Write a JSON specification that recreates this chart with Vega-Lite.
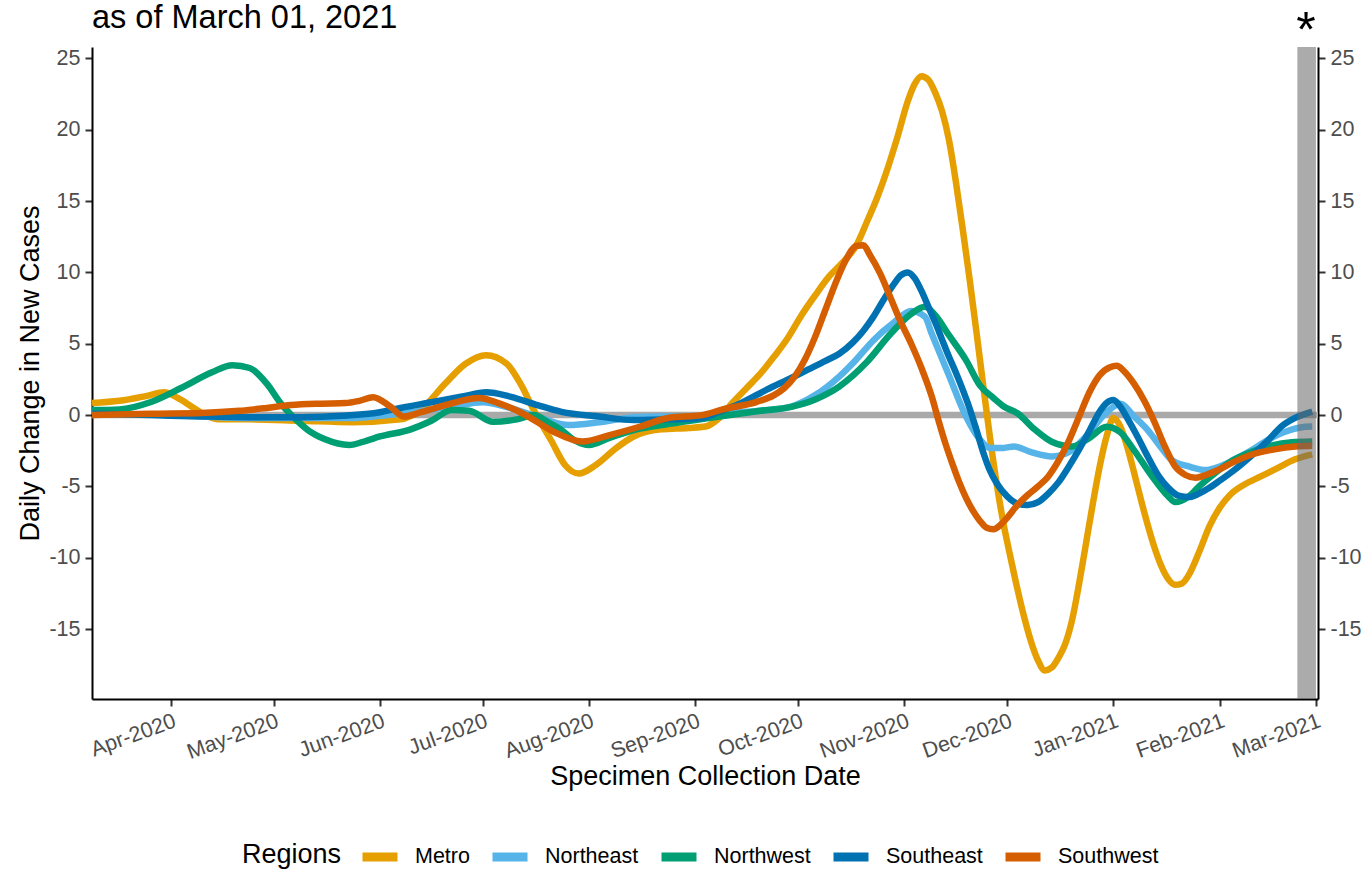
{
  "$schema": "https://vega.github.io/schema/vega-lite/v6.json",
  "width": 1226,
  "height": 652,
  "autosize": {"type": "none"},
  "padding": {"left": 92, "top": 47, "right": 49, "bottom": 170},
  "background": "white",
  "title": {"text": "as of March 01, 2021", "anchor": "start", "frame": "group", "fontSize": 32.5, "fontWeight": "normal", "color": "#000000", "baseline": "alphabetic", "offset": -53},
  "config": {
    "font": "Liberation Sans",
    "view": {"stroke": null},
    "axis": {"domainColor": "#000000", "domainWidth": 2, "tickColor": "#333333", "tickWidth": 2, "tickSize": 7, "labelColor": "#4d4d4d", "labelFontSize": 21.5, "titleFontSize": 27, "titleFontWeight": "normal", "titleColor": "#000000", "grid": false, "labelPadding": 5}
  },
  "datasets": {
    "series": [
      {"region": "Metro", "date": "2020-03-09", "value": 0.85},
      {"region": "Metro", "date": "2020-03-17", "value": 1.0},
      {"region": "Metro", "date": "2020-03-25", "value": 1.35},
      {"region": "Metro", "date": "2020-03-30", "value": 1.6},
      {"region": "Metro", "date": "2020-04-03", "value": 1.2},
      {"region": "Metro", "date": "2020-04-07", "value": 0.6},
      {"region": "Metro", "date": "2020-04-11", "value": 0.0},
      {"region": "Metro", "date": "2020-04-15", "value": -0.3},
      {"region": "Metro", "date": "2020-04-24", "value": -0.3},
      {"region": "Metro", "date": "2020-05-09", "value": -0.4},
      {"region": "Metro", "date": "2020-05-24", "value": -0.5},
      {"region": "Metro", "date": "2020-06-07", "value": -0.3},
      {"region": "Metro", "date": "2020-06-13", "value": 0.4},
      {"region": "Metro", "date": "2020-06-20", "value": 2.2},
      {"region": "Metro", "date": "2020-06-26", "value": 3.6},
      {"region": "Metro", "date": "2020-07-02", "value": 4.2},
      {"region": "Metro", "date": "2020-07-08", "value": 3.6},
      {"region": "Metro", "date": "2020-07-12", "value": 2.2},
      {"region": "Metro", "date": "2020-07-16", "value": 0.3},
      {"region": "Metro", "date": "2020-07-21", "value": -1.8},
      {"region": "Metro", "date": "2020-07-25", "value": -3.5},
      {"region": "Metro", "date": "2020-07-29", "value": -4.1},
      {"region": "Metro", "date": "2020-08-03", "value": -3.5},
      {"region": "Metro", "date": "2020-08-09", "value": -2.3},
      {"region": "Metro", "date": "2020-08-14", "value": -1.5},
      {"region": "Metro", "date": "2020-08-22", "value": -1.0},
      {"region": "Metro", "date": "2020-08-30", "value": -0.9},
      {"region": "Metro", "date": "2020-09-04", "value": -0.8},
      {"region": "Metro", "date": "2020-09-08", "value": -0.2},
      {"region": "Metro", "date": "2020-09-12", "value": 0.9},
      {"region": "Metro", "date": "2020-09-16", "value": 1.9},
      {"region": "Metro", "date": "2020-09-20", "value": 2.9},
      {"region": "Metro", "date": "2020-09-24", "value": 4.1},
      {"region": "Metro", "date": "2020-09-28", "value": 5.4},
      {"region": "Metro", "date": "2020-10-02", "value": 7.0},
      {"region": "Metro", "date": "2020-10-06", "value": 8.4},
      {"region": "Metro", "date": "2020-10-10", "value": 9.7},
      {"region": "Metro", "date": "2020-10-14", "value": 10.7},
      {"region": "Metro", "date": "2020-10-18", "value": 11.9},
      {"region": "Metro", "date": "2020-10-21", "value": 13.5},
      {"region": "Metro", "date": "2020-10-24", "value": 15.2},
      {"region": "Metro", "date": "2020-10-27", "value": 17.2},
      {"region": "Metro", "date": "2020-10-30", "value": 19.5},
      {"region": "Metro", "date": "2020-11-02", "value": 22.0},
      {"region": "Metro", "date": "2020-11-04", "value": 23.2},
      {"region": "Metro", "date": "2020-11-06", "value": 23.75},
      {"region": "Metro", "date": "2020-11-08", "value": 23.5},
      {"region": "Metro", "date": "2020-11-10", "value": 22.6},
      {"region": "Metro", "date": "2020-11-12", "value": 21.3},
      {"region": "Metro", "date": "2020-11-14", "value": 19.3},
      {"region": "Metro", "date": "2020-11-16", "value": 16.4},
      {"region": "Metro", "date": "2020-11-18", "value": 13.1},
      {"region": "Metro", "date": "2020-11-20", "value": 9.6},
      {"region": "Metro", "date": "2020-11-22", "value": 5.9},
      {"region": "Metro", "date": "2020-11-24", "value": 2.1},
      {"region": "Metro", "date": "2020-11-26", "value": -1.6},
      {"region": "Metro", "date": "2020-11-28", "value": -4.9},
      {"region": "Metro", "date": "2020-11-30", "value": -7.7},
      {"region": "Metro", "date": "2020-12-02", "value": -10.0},
      {"region": "Metro", "date": "2020-12-04", "value": -12.2},
      {"region": "Metro", "date": "2020-12-06", "value": -14.2},
      {"region": "Metro", "date": "2020-12-08", "value": -15.9},
      {"region": "Metro", "date": "2020-12-10", "value": -17.2},
      {"region": "Metro", "date": "2020-12-12", "value": -17.9},
      {"region": "Metro", "date": "2020-12-14", "value": -17.7},
      {"region": "Metro", "date": "2020-12-16", "value": -17.0},
      {"region": "Metro", "date": "2020-12-18", "value": -16.0},
      {"region": "Metro", "date": "2020-12-20", "value": -14.3},
      {"region": "Metro", "date": "2020-12-22", "value": -11.8},
      {"region": "Metro", "date": "2020-12-24", "value": -9.0},
      {"region": "Metro", "date": "2020-12-26", "value": -6.2},
      {"region": "Metro", "date": "2020-12-28", "value": -3.6},
      {"region": "Metro", "date": "2020-12-30", "value": -1.5},
      {"region": "Metro", "date": "2021-01-01", "value": -0.2},
      {"region": "Metro", "date": "2021-01-03", "value": -0.8},
      {"region": "Metro", "date": "2021-01-05", "value": -2.2},
      {"region": "Metro", "date": "2021-01-07", "value": -4.0},
      {"region": "Metro", "date": "2021-01-09", "value": -5.9},
      {"region": "Metro", "date": "2021-01-11", "value": -7.7},
      {"region": "Metro", "date": "2021-01-13", "value": -9.3},
      {"region": "Metro", "date": "2021-01-15", "value": -10.6},
      {"region": "Metro", "date": "2021-01-17", "value": -11.5},
      {"region": "Metro", "date": "2021-01-19", "value": -11.9},
      {"region": "Metro", "date": "2021-01-21", "value": -11.8},
      {"region": "Metro", "date": "2021-01-23", "value": -11.2},
      {"region": "Metro", "date": "2021-01-26", "value": -9.6},
      {"region": "Metro", "date": "2021-01-29", "value": -7.8},
      {"region": "Metro", "date": "2021-02-01", "value": -6.5},
      {"region": "Metro", "date": "2021-02-04", "value": -5.6},
      {"region": "Metro", "date": "2021-02-08", "value": -4.9},
      {"region": "Metro", "date": "2021-02-13", "value": -4.3},
      {"region": "Metro", "date": "2021-02-18", "value": -3.7},
      {"region": "Metro", "date": "2021-02-23", "value": -3.1},
      {"region": "Metro", "date": "2021-02-28", "value": -2.75},

      {"region": "Northeast", "date": "2020-03-09", "value": 0.1},
      {"region": "Northeast", "date": "2020-03-26", "value": 0.05},
      {"region": "Northeast", "date": "2020-04-10", "value": -0.1},
      {"region": "Northeast", "date": "2020-04-24", "value": -0.2},
      {"region": "Northeast", "date": "2020-05-09", "value": -0.2},
      {"region": "Northeast", "date": "2020-05-24", "value": -0.2},
      {"region": "Northeast", "date": "2020-06-01", "value": -0.05},
      {"region": "Northeast", "date": "2020-06-10", "value": 0.2},
      {"region": "Northeast", "date": "2020-06-22", "value": 0.6},
      {"region": "Northeast", "date": "2020-07-01", "value": 0.9},
      {"region": "Northeast", "date": "2020-07-09", "value": 0.5},
      {"region": "Northeast", "date": "2020-07-18", "value": -0.2},
      {"region": "Northeast", "date": "2020-07-26", "value": -0.7},
      {"region": "Northeast", "date": "2020-08-04", "value": -0.5},
      {"region": "Northeast", "date": "2020-08-14", "value": -0.15},
      {"region": "Northeast", "date": "2020-08-22", "value": -0.1},
      {"region": "Northeast", "date": "2020-09-03", "value": -0.1},
      {"region": "Northeast", "date": "2020-09-08", "value": 0.1},
      {"region": "Northeast", "date": "2020-09-20", "value": 0.3},
      {"region": "Northeast", "date": "2020-09-29", "value": 0.6},
      {"region": "Northeast", "date": "2020-10-06", "value": 1.4},
      {"region": "Northeast", "date": "2020-10-13", "value": 2.7},
      {"region": "Northeast", "date": "2020-10-18", "value": 3.9},
      {"region": "Northeast", "date": "2020-10-23", "value": 5.25},
      {"region": "Northeast", "date": "2020-10-29", "value": 6.5},
      {"region": "Northeast", "date": "2020-11-03", "value": 7.3},
      {"region": "Northeast", "date": "2020-11-07", "value": 6.9},
      {"region": "Northeast", "date": "2020-11-09", "value": 5.7},
      {"region": "Northeast", "date": "2020-11-14", "value": 2.8},
      {"region": "Northeast", "date": "2020-11-19", "value": -0.1},
      {"region": "Northeast", "date": "2020-11-23", "value": -1.7},
      {"region": "Northeast", "date": "2020-11-26", "value": -2.3},
      {"region": "Northeast", "date": "2020-11-30", "value": -2.3},
      {"region": "Northeast", "date": "2020-12-03", "value": -2.2},
      {"region": "Northeast", "date": "2020-12-08", "value": -2.6},
      {"region": "Northeast", "date": "2020-12-14", "value": -2.9},
      {"region": "Northeast", "date": "2020-12-19", "value": -2.6},
      {"region": "Northeast", "date": "2020-12-24", "value": -1.5},
      {"region": "Northeast", "date": "2020-12-30", "value": 0.2},
      {"region": "Northeast", "date": "2021-01-03", "value": 0.8},
      {"region": "Northeast", "date": "2021-01-07", "value": -0.1},
      {"region": "Northeast", "date": "2021-01-11", "value": -1.05},
      {"region": "Northeast", "date": "2021-01-15", "value": -2.3},
      {"region": "Northeast", "date": "2021-01-18", "value": -3.15},
      {"region": "Northeast", "date": "2021-01-23", "value": -3.6},
      {"region": "Northeast", "date": "2021-01-28", "value": -3.85},
      {"region": "Northeast", "date": "2021-02-01", "value": -3.6},
      {"region": "Northeast", "date": "2021-02-05", "value": -3.15},
      {"region": "Northeast", "date": "2021-02-10", "value": -2.5},
      {"region": "Northeast", "date": "2021-02-15", "value": -1.75},
      {"region": "Northeast", "date": "2021-02-21", "value": -1.1},
      {"region": "Northeast", "date": "2021-02-26", "value": -0.82},
      {"region": "Northeast", "date": "2021-02-28", "value": -0.8},

      {"region": "Northwest", "date": "2020-03-09", "value": 0.35},
      {"region": "Northwest", "date": "2020-03-17", "value": 0.4},
      {"region": "Northwest", "date": "2020-03-26", "value": 0.9},
      {"region": "Northwest", "date": "2020-04-04", "value": 1.9},
      {"region": "Northwest", "date": "2020-04-13", "value": 3.0},
      {"region": "Northwest", "date": "2020-04-19", "value": 3.5},
      {"region": "Northwest", "date": "2020-04-24", "value": 3.3},
      {"region": "Northwest", "date": "2020-04-29", "value": 2.2},
      {"region": "Northwest", "date": "2020-05-03", "value": 0.84},
      {"region": "Northwest", "date": "2020-05-07", "value": -0.2},
      {"region": "Northwest", "date": "2020-05-11", "value": -1.05},
      {"region": "Northwest", "date": "2020-05-16", "value": -1.7},
      {"region": "Northwest", "date": "2020-05-23", "value": -2.1},
      {"region": "Northwest", "date": "2020-05-28", "value": -1.8},
      {"region": "Northwest", "date": "2020-06-01", "value": -1.5},
      {"region": "Northwest", "date": "2020-06-10", "value": -1.0},
      {"region": "Northwest", "date": "2020-06-16", "value": -0.4},
      {"region": "Northwest", "date": "2020-06-22", "value": 0.35},
      {"region": "Northwest", "date": "2020-06-27", "value": 0.3},
      {"region": "Northwest", "date": "2020-07-04", "value": -0.47},
      {"region": "Northwest", "date": "2020-07-11", "value": -0.3},
      {"region": "Northwest", "date": "2020-07-16", "value": 0.0},
      {"region": "Northwest", "date": "2020-07-20", "value": -0.5},
      {"region": "Northwest", "date": "2020-07-24", "value": -1.05},
      {"region": "Northwest", "date": "2020-07-28", "value": -1.8},
      {"region": "Northwest", "date": "2020-08-01", "value": -2.1},
      {"region": "Northwest", "date": "2020-08-07", "value": -1.6},
      {"region": "Northwest", "date": "2020-08-14", "value": -1.05},
      {"region": "Northwest", "date": "2020-08-25", "value": -0.6},
      {"region": "Northwest", "date": "2020-09-08", "value": -0.1},
      {"region": "Northwest", "date": "2020-09-20", "value": 0.3},
      {"region": "Northwest", "date": "2020-09-29", "value": 0.58},
      {"region": "Northwest", "date": "2020-10-06", "value": 1.1},
      {"region": "Northwest", "date": "2020-10-13", "value": 2.0},
      {"region": "Northwest", "date": "2020-10-21", "value": 3.7},
      {"region": "Northwest", "date": "2020-10-28", "value": 5.7},
      {"region": "Northwest", "date": "2020-11-03", "value": 7.1},
      {"region": "Northwest", "date": "2020-11-07", "value": 7.6},
      {"region": "Northwest", "date": "2020-11-10", "value": 7.0},
      {"region": "Northwest", "date": "2020-11-14", "value": 5.6},
      {"region": "Northwest", "date": "2020-11-19", "value": 3.85},
      {"region": "Northwest", "date": "2020-11-23", "value": 2.1},
      {"region": "Northwest", "date": "2020-11-27", "value": 1.2},
      {"region": "Northwest", "date": "2020-11-30", "value": 0.6},
      {"region": "Northwest", "date": "2020-12-04", "value": 0.13},
      {"region": "Northwest", "date": "2020-12-09", "value": -1.0},
      {"region": "Northwest", "date": "2020-12-14", "value": -1.87},
      {"region": "Northwest", "date": "2020-12-20", "value": -2.2},
      {"region": "Northwest", "date": "2020-12-25", "value": -1.6},
      {"region": "Northwest", "date": "2020-12-30", "value": -0.82},
      {"region": "Northwest", "date": "2021-01-03", "value": -1.2},
      {"region": "Northwest", "date": "2021-01-07", "value": -2.45},
      {"region": "Northwest", "date": "2021-01-12", "value": -4.2},
      {"region": "Northwest", "date": "2021-01-17", "value": -5.7},
      {"region": "Northwest", "date": "2021-01-19", "value": -6.1},
      {"region": "Northwest", "date": "2021-01-23", "value": -5.7},
      {"region": "Northwest", "date": "2021-01-26", "value": -5.0},
      {"region": "Northwest", "date": "2021-01-31", "value": -4.0},
      {"region": "Northwest", "date": "2021-02-05", "value": -3.15},
      {"region": "Northwest", "date": "2021-02-10", "value": -2.6},
      {"region": "Northwest", "date": "2021-02-15", "value": -2.2},
      {"region": "Northwest", "date": "2021-02-22", "value": -1.9},
      {"region": "Northwest", "date": "2021-02-28", "value": -1.85},

      {"region": "Southeast", "date": "2020-03-09", "value": 0.1},
      {"region": "Southeast", "date": "2020-03-26", "value": 0.0},
      {"region": "Southeast", "date": "2020-04-10", "value": -0.1},
      {"region": "Southeast", "date": "2020-04-24", "value": -0.15},
      {"region": "Southeast", "date": "2020-05-09", "value": -0.15},
      {"region": "Southeast", "date": "2020-05-21", "value": -0.05},
      {"region": "Southeast", "date": "2020-06-01", "value": 0.2},
      {"region": "Southeast", "date": "2020-06-07", "value": 0.5},
      {"region": "Southeast", "date": "2020-06-16", "value": 0.9},
      {"region": "Southeast", "date": "2020-06-25", "value": 1.3},
      {"region": "Southeast", "date": "2020-07-02", "value": 1.6},
      {"region": "Southeast", "date": "2020-07-09", "value": 1.3},
      {"region": "Southeast", "date": "2020-07-17", "value": 0.7},
      {"region": "Southeast", "date": "2020-07-24", "value": 0.23},
      {"region": "Southeast", "date": "2020-08-04", "value": -0.1},
      {"region": "Southeast", "date": "2020-08-14", "value": -0.35},
      {"region": "Southeast", "date": "2020-08-25", "value": -0.3},
      {"region": "Southeast", "date": "2020-09-03", "value": -0.2},
      {"region": "Southeast", "date": "2020-09-08", "value": 0.23},
      {"region": "Southeast", "date": "2020-09-14", "value": 0.8},
      {"region": "Southeast", "date": "2020-09-22", "value": 1.8},
      {"region": "Southeast", "date": "2020-09-29", "value": 2.6},
      {"region": "Southeast", "date": "2020-10-04", "value": 3.2},
      {"region": "Southeast", "date": "2020-10-09", "value": 3.8},
      {"region": "Southeast", "date": "2020-10-13", "value": 4.3},
      {"region": "Southeast", "date": "2020-10-17", "value": 5.1},
      {"region": "Southeast", "date": "2020-10-20", "value": 5.9},
      {"region": "Southeast", "date": "2020-10-23", "value": 6.9},
      {"region": "Southeast", "date": "2020-10-26", "value": 8.1},
      {"region": "Southeast", "date": "2020-10-29", "value": 9.2},
      {"region": "Southeast", "date": "2020-10-31", "value": 9.8},
      {"region": "Southeast", "date": "2020-11-02", "value": 10.0},
      {"region": "Southeast", "date": "2020-11-04", "value": 9.6},
      {"region": "Southeast", "date": "2020-11-06", "value": 8.7},
      {"region": "Southeast", "date": "2020-11-08", "value": 7.6},
      {"region": "Southeast", "date": "2020-11-10", "value": 6.5},
      {"region": "Southeast", "date": "2020-11-12", "value": 5.3},
      {"region": "Southeast", "date": "2020-11-14", "value": 4.1},
      {"region": "Southeast", "date": "2020-11-16", "value": 3.0},
      {"region": "Southeast", "date": "2020-11-18", "value": 1.8},
      {"region": "Southeast", "date": "2020-11-20", "value": 0.5},
      {"region": "Southeast", "date": "2020-11-22", "value": -1.0},
      {"region": "Southeast", "date": "2020-11-24", "value": -2.6},
      {"region": "Southeast", "date": "2020-11-26", "value": -3.9},
      {"region": "Southeast", "date": "2020-11-28", "value": -4.8},
      {"region": "Southeast", "date": "2020-12-01", "value": -5.7},
      {"region": "Southeast", "date": "2020-12-04", "value": -6.2},
      {"region": "Southeast", "date": "2020-12-07", "value": -6.3},
      {"region": "Southeast", "date": "2020-12-10", "value": -6.1},
      {"region": "Southeast", "date": "2020-12-13", "value": -5.5},
      {"region": "Southeast", "date": "2020-12-16", "value": -4.7},
      {"region": "Southeast", "date": "2020-12-19", "value": -3.6},
      {"region": "Southeast", "date": "2020-12-22", "value": -2.4},
      {"region": "Southeast", "date": "2020-12-25", "value": -1.1},
      {"region": "Southeast", "date": "2020-12-28", "value": 0.25},
      {"region": "Southeast", "date": "2020-12-30", "value": 0.85},
      {"region": "Southeast", "date": "2021-01-01", "value": 1.05},
      {"region": "Southeast", "date": "2021-01-03", "value": 0.6},
      {"region": "Southeast", "date": "2021-01-05", "value": -0.2},
      {"region": "Southeast", "date": "2021-01-08", "value": -1.5},
      {"region": "Southeast", "date": "2021-01-11", "value": -2.9},
      {"region": "Southeast", "date": "2021-01-14", "value": -4.2},
      {"region": "Southeast", "date": "2021-01-17", "value": -5.1},
      {"region": "Southeast", "date": "2021-01-20", "value": -5.65},
      {"region": "Southeast", "date": "2021-01-23", "value": -5.75},
      {"region": "Southeast", "date": "2021-01-26", "value": -5.5},
      {"region": "Southeast", "date": "2021-01-29", "value": -5.1},
      {"region": "Southeast", "date": "2021-02-01", "value": -4.6},
      {"region": "Southeast", "date": "2021-02-05", "value": -3.9},
      {"region": "Southeast", "date": "2021-02-10", "value": -2.9},
      {"region": "Southeast", "date": "2021-02-15", "value": -1.8},
      {"region": "Southeast", "date": "2021-02-19", "value": -0.8},
      {"region": "Southeast", "date": "2021-02-23", "value": -0.2},
      {"region": "Southeast", "date": "2021-02-28", "value": 0.25},

      {"region": "Southwest", "date": "2020-03-09", "value": 0.0},
      {"region": "Southwest", "date": "2020-03-26", "value": 0.1},
      {"region": "Southwest", "date": "2020-04-10", "value": 0.15},
      {"region": "Southwest", "date": "2020-04-21", "value": 0.3},
      {"region": "Southwest", "date": "2020-04-29", "value": 0.5},
      {"region": "Southwest", "date": "2020-05-06", "value": 0.7},
      {"region": "Southwest", "date": "2020-05-15", "value": 0.8},
      {"region": "Southwest", "date": "2020-05-22", "value": 0.84},
      {"region": "Southwest", "date": "2020-05-26", "value": 1.0},
      {"region": "Southwest", "date": "2020-05-30", "value": 1.25},
      {"region": "Southwest", "date": "2020-06-04", "value": 0.6},
      {"region": "Southwest", "date": "2020-06-08", "value": -0.1},
      {"region": "Southwest", "date": "2020-06-13", "value": 0.2},
      {"region": "Southwest", "date": "2020-06-20", "value": 0.7},
      {"region": "Southwest", "date": "2020-06-30", "value": 1.2},
      {"region": "Southwest", "date": "2020-07-06", "value": 0.8},
      {"region": "Southwest", "date": "2020-07-12", "value": 0.2},
      {"region": "Southwest", "date": "2020-07-16", "value": -0.35},
      {"region": "Southwest", "date": "2020-07-22", "value": -1.2},
      {"region": "Southwest", "date": "2020-07-30", "value": -1.85},
      {"region": "Southwest", "date": "2020-08-07", "value": -1.4},
      {"region": "Southwest", "date": "2020-08-16", "value": -0.8},
      {"region": "Southwest", "date": "2020-08-24", "value": -0.2},
      {"region": "Southwest", "date": "2020-09-03", "value": 0.0},
      {"region": "Southwest", "date": "2020-09-09", "value": 0.4},
      {"region": "Southwest", "date": "2020-09-19", "value": 0.93},
      {"region": "Southwest", "date": "2020-09-24", "value": 1.4},
      {"region": "Southwest", "date": "2020-09-27", "value": 1.9},
      {"region": "Southwest", "date": "2020-09-30", "value": 2.7},
      {"region": "Southwest", "date": "2020-10-03", "value": 3.9},
      {"region": "Southwest", "date": "2020-10-06", "value": 5.5},
      {"region": "Southwest", "date": "2020-10-09", "value": 7.4},
      {"region": "Southwest", "date": "2020-10-12", "value": 9.3},
      {"region": "Southwest", "date": "2020-10-15", "value": 10.9},
      {"region": "Southwest", "date": "2020-10-18", "value": 11.85},
      {"region": "Southwest", "date": "2020-10-20", "value": 11.9},
      {"region": "Southwest", "date": "2020-10-22", "value": 11.2},
      {"region": "Southwest", "date": "2020-10-25", "value": 9.9},
      {"region": "Southwest", "date": "2020-10-28", "value": 8.2},
      {"region": "Southwest", "date": "2020-10-31", "value": 6.5},
      {"region": "Southwest", "date": "2020-11-03", "value": 5.0},
      {"region": "Southwest", "date": "2020-11-06", "value": 3.3},
      {"region": "Southwest", "date": "2020-11-09", "value": 1.3},
      {"region": "Southwest", "date": "2020-11-11", "value": -0.4},
      {"region": "Southwest", "date": "2020-11-13", "value": -2.0},
      {"region": "Southwest", "date": "2020-11-15", "value": -3.4},
      {"region": "Southwest", "date": "2020-11-17", "value": -4.7},
      {"region": "Southwest", "date": "2020-11-19", "value": -5.8},
      {"region": "Southwest", "date": "2020-11-21", "value": -6.7},
      {"region": "Southwest", "date": "2020-11-23", "value": -7.4},
      {"region": "Southwest", "date": "2020-11-25", "value": -7.9},
      {"region": "Southwest", "date": "2020-11-27", "value": -8.0},
      {"region": "Southwest", "date": "2020-11-29", "value": -7.7},
      {"region": "Southwest", "date": "2020-12-01", "value": -7.2},
      {"region": "Southwest", "date": "2020-12-04", "value": -6.3},
      {"region": "Southwest", "date": "2020-12-07", "value": -5.6},
      {"region": "Southwest", "date": "2020-12-10", "value": -5.0},
      {"region": "Southwest", "date": "2020-12-13", "value": -4.3},
      {"region": "Southwest", "date": "2020-12-16", "value": -3.2},
      {"region": "Southwest", "date": "2020-12-19", "value": -1.8},
      {"region": "Southwest", "date": "2020-12-22", "value": -0.1},
      {"region": "Southwest", "date": "2020-12-25", "value": 1.6},
      {"region": "Southwest", "date": "2020-12-28", "value": 2.8},
      {"region": "Southwest", "date": "2020-12-31", "value": 3.35},
      {"region": "Southwest", "date": "2021-01-02", "value": 3.45},
      {"region": "Southwest", "date": "2021-01-04", "value": 3.1},
      {"region": "Southwest", "date": "2021-01-07", "value": 2.2},
      {"region": "Southwest", "date": "2021-01-10", "value": 1.0},
      {"region": "Southwest", "date": "2021-01-13", "value": -0.5},
      {"region": "Southwest", "date": "2021-01-16", "value": -2.2},
      {"region": "Southwest", "date": "2021-01-19", "value": -3.6},
      {"region": "Southwest", "date": "2021-01-22", "value": -4.2},
      {"region": "Southwest", "date": "2021-01-25", "value": -4.4},
      {"region": "Southwest", "date": "2021-01-28", "value": -4.2},
      {"region": "Southwest", "date": "2021-02-01", "value": -3.8},
      {"region": "Southwest", "date": "2021-02-05", "value": -3.3},
      {"region": "Southwest", "date": "2021-02-10", "value": -2.8},
      {"region": "Southwest", "date": "2021-02-17", "value": -2.4},
      {"region": "Southwest", "date": "2021-02-23", "value": -2.2},
      {"region": "Southwest", "date": "2021-02-28", "value": -2.15}
    ],
    "band": [{"start": "2021-02-23T16:00:00Z", "end": "2021-03-01T02:00:00Z"}],
    "star": [{"date": "2021-02-26T05:00:00Z", "value": 25.77, "label": "*"}]
  },
  "resolve": {"axis": {"y": "independent"}},
  "layer": [
    {
      "data": {"values": [{"zero": 0}]},
      "mark": {"type": "rule", "color": "#a9a9a9", "strokeWidth": 6.5},
      "encoding": {
        "y": {"field": "zero", "type": "quantitative", "scale": {"domain": [-19.9, 25.8], "nice": false, "zero": false}, "axis": null}
      }
    },
    {
      "data": {"name": "series"},
      "mark": {"type": "line", "interpolate": "monotone", "strokeWidth": 6.5, "strokeCap": "butt", "strokeJoin": "round"},
      "encoding": {
        "x": {"field": "date", "type": "temporal",
              "scale": {"type": "utc", "domain": [1583712000000, 1614616000000], "nice": false},
              "axis": {"title": "Specimen Collection Date", "values": [1585699200000, 1588291200000, 1590969600000, 1593561600000, 1596240000000, 1598918400000, 1601510400000, 1604188800000, 1606780800000, 1609459200000, 1612137600000, 1614556800000],
                       "labelExpr": "utcFormat(datum.value, '%b-%Y')", "labelAngle": -20, "labelAlign": "right", "labelBaseline": "top", "labelPadding": 4, "titlePadding": 1, "labelOverlap": false, "labelFlush": false}},
        "y": {"field": "value", "type": "quantitative", "scale": {"domain": [-19.9, 25.8], "nice": false, "zero": false},
              "axis": {"orient": "left", "title": "Daily Change in New Cases", "values": [-15, -10, -5, 0, 5, 10, 15, 20, 25], "titlePadding": 4,
                       "labelExpr": "datum.value < 0 ? '-' + abs(datum.value) : '' + datum.value"}},
        "color": {"field": "region", "type": "nominal",
                  "scale": {"domain": ["Metro", "Northeast", "Northwest", "Southeast", "Southwest"], "range": ["#E69F00", "#56B4E9", "#009E73", "#0072B2", "#D55E00"]},
                  "legend": {"title": "Regions", "orient": "none", "legendX": 150, "legendY": 788, "direction": "horizontal", "titleOrient": "left", "titleFontSize": 27, "titleFontWeight": "normal", "titleColor": "#000000", "titleBaseline": "middle", "titlePadding": 16,
                             "labelFontSize": 21.5, "labelColor": "#000000", "symbolType": "stroke", "symbolSize": 1225, "symbolStrokeWidth": 9, "labelOffset": 13, "columnPadding": 4}},
        "order": {"field": "date", "type": "temporal"}
      }
    },
    {
      "data": {"name": "band"},
      "mark": {"type": "rect", "color": "#666666", "opacity": 0.55},
      "encoding": {
        "x": {"field": "start", "type": "temporal",
              "axis": {"title": "Specimen Collection Date", "values": [1585699200000, 1588291200000, 1590969600000, 1593561600000, 1596240000000, 1598918400000, 1601510400000, 1604188800000, 1606780800000, 1609459200000, 1612137600000, 1614556800000],
                       "labelExpr": "utcFormat(datum.value, '%b-%Y')", "labelAngle": -20, "labelAlign": "right", "labelBaseline": "top", "labelPadding": 4, "titlePadding": 1, "labelOverlap": false, "labelFlush": false}},
        "x2": {"field": "end"}
      }
    },
    {
      "data": {"name": "star"},
      "mark": {"type": "text", "fontSize": 50, "color": "#000000", "baseline": "alphabetic", "align": "center", "font": "Liberation Sans"},
      "encoding": {
        "x": {"field": "date", "type": "temporal",
              "axis": {"title": "Specimen Collection Date", "values": [1585699200000, 1588291200000, 1590969600000, 1593561600000, 1596240000000, 1598918400000, 1601510400000, 1604188800000, 1606780800000, 1609459200000, 1612137600000, 1614556800000],
                       "labelExpr": "utcFormat(datum.value, '%b-%Y')", "labelAngle": -20, "labelAlign": "right", "labelBaseline": "top", "labelPadding": 4, "titlePadding": 1, "labelOverlap": false, "labelFlush": false}},
        "y": {"field": "value", "type": "quantitative", "scale": {"domain": [-19.9, 25.8], "nice": false, "zero": false},
              "axis": {"orient": "right", "title": null, "values": [-15, -10, -5, 0, 5, 10, 15, 20, 25],
                       "labelExpr": "datum.value < 0 ? '-' + abs(datum.value) : '' + datum.value"}},
        "text": {"field": "label"}
      }
    }
  ]
}
